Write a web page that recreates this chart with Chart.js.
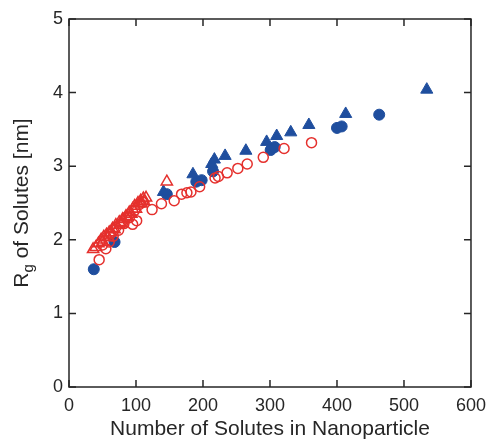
<!DOCTYPE html>
<html>
<head>
<meta charset="utf-8">
<script src="https://cdn.jsdelivr.net/npm/chart.js@4.4.1/dist/chart.umd.min.js"></script>
<style>
  html, body { margin: 0; padding: 0; background: #ffffff; }
  #wrap { width: 494px; height: 442px; }
</style>
</head>
<body>
<div id="wrap"><canvas id="c" width="494" height="442"></canvas></div>
<script>
// Radius of gyration of solutes vs. number of solutes in the nanoparticle
const blueCircleX = [37, 68, 146, 190, 198, 215, 301, 307, 400, 407, 463];
const blueCircleY = [1.60, 1.97, 2.62, 2.79, 2.81, 2.93, 3.22, 3.26, 3.52, 3.54, 3.70];

const blueTriX = [141, 185, 213, 217, 233, 264, 295, 310, 331, 358, 413, 534];
const blueTriY = [2.65, 2.89, 3.03, 3.09, 3.14, 3.21, 3.33, 3.41, 3.46, 3.56, 3.71, 4.04];

const redCircleX = [45, 50, 55, 60, 62, 66, 70, 74, 78, 82, 86, 90, 95, 98, 101, 105, 110, 124, 138, 157, 168, 176, 182, 195, 218, 223, 236, 252, 266, 290, 321, 362];
const redCircleY = [1.73, 1.93, 1.88, 1.97, 2.08, 2.05, 2.17, 2.13, 2.22, 2.22, 2.31, 2.30, 2.21, 2.40, 2.26, 2.48, 2.51, 2.41, 2.49, 2.53, 2.62, 2.64, 2.65, 2.72, 2.84, 2.86, 2.91, 2.97, 3.03, 3.12, 3.24, 3.32];

const redTriX = [36, 40, 44, 48, 50, 52, 56, 58, 60, 63, 65, 68, 70, 75, 78, 80, 85, 86, 90, 93, 95, 98, 100, 103, 107, 108, 111, 112, 115, 146];
const redTriY = [1.87, 1.90, 1.95, 2.00, 1.97, 2.04, 2.07, 2.03, 2.10, 2.10, 2.15, 2.14, 2.20, 2.24, 2.22, 2.28, 2.32, 2.30, 2.37, 2.35, 2.42, 2.46, 2.42, 2.50, 2.53, 2.49, 2.56, 2.52, 2.57, 2.79];

const xTicks = [0, 100, 200, 300, 400, 500, 600];
const yTicks = [0, 1, 2, 3, 4, 5];

const xTitle = 'Number of Solutes in Nanoparticle';
const yTitleMain = 'R';
const yTitleSub = 'g';
const yTitleRest = ' of Solutes [nm]';

const BLUE = '#1f4e9e';
const RED = '#e5302d';
const AXIS = '#262626';
const FONT = "'Liberation Sans', Arial, sans-serif";

function pts(xs, ys) { return xs.map((x, i) => ({ x: x, y: ys[i] })); }

// Frame box with inward ticks on all four sides, plus the y-axis title with subscript
const framePlugin = {
  id: 'frame',
  afterDraw(chart) {
    const ctx = chart.ctx;
    const a = chart.chartArea;
    const xs = chart.scales.x, ys = chart.scales.y;
    const tl = 7;
    ctx.save();
    ctx.strokeStyle = AXIS;
    ctx.lineWidth = 1.5;
    ctx.strokeRect(a.left, a.top, a.right - a.left, a.bottom - a.top);
    ctx.beginPath();
    xTicks.forEach(v => {
      const px = xs.getPixelForValue(v);
      ctx.moveTo(px, a.bottom); ctx.lineTo(px, a.bottom - tl);
      ctx.moveTo(px, a.top); ctx.lineTo(px, a.top + tl);
    });
    yTicks.forEach(v => {
      const py = ys.getPixelForValue(v);
      ctx.moveTo(a.left, py); ctx.lineTo(a.left + tl, py);
      ctx.moveTo(a.right, py); ctx.lineTo(a.right - tl, py);
    });
    ctx.stroke();

    // y-axis title: R with subscript g
    const cy = (a.top + a.bottom) / 2;
    ctx.translate(22, cy);
    ctx.rotate(-Math.PI / 2);
    ctx.fillStyle = AXIS;
    ctx.textBaseline = 'middle';
    ctx.textAlign = 'left';
    const big = '21px ' + FONT, small = '15px ' + FONT;
    ctx.font = big;
    const w1 = ctx.measureText(yTitleMain).width;
    const w3 = ctx.measureText(yTitleRest).width;
    ctx.font = small;
    const w2 = ctx.measureText(yTitleSub).width;
    let x0 = -(w1 + w2 + w3) / 2;
    ctx.font = big;
    ctx.fillText(yTitleMain, x0, 0);
    ctx.font = small;
    ctx.fillText(yTitleSub, x0 + w1, 7);
    ctx.font = big;
    ctx.fillText(yTitleRest, x0 + w1 + w2, 0);
    ctx.restore();
  }
};

new Chart(document.getElementById('c'), {
  type: 'scatter',
  data: {
    datasets: [
      { data: pts(redTriX, redTriY), pointStyle: 'triangle', pointRadius: 6.5,
        backgroundColor: 'rgba(255,255,255,0)', borderColor: RED, borderWidth: 1.5 },
      { data: pts(redCircleX, redCircleY), pointStyle: 'circle', pointRadius: 5,
        backgroundColor: 'rgba(255,255,255,0)', borderColor: RED, borderWidth: 1.5 },
      { data: pts(blueTriX, blueTriY), pointStyle: 'triangle', pointRadius: 7,
        backgroundColor: BLUE, borderColor: BLUE, borderWidth: 1 },
      { data: pts(blueCircleX, blueCircleY), pointStyle: 'circle', pointRadius: 5.5,
        backgroundColor: BLUE, borderColor: BLUE, borderWidth: 1 }
    ]
  },
  options: {
    responsive: false,
    animation: false,
    events: [],
    layout: { padding: { left: 0, right: 18, top: 19, bottom: 0 } },
    plugins: { legend: { display: false }, tooltip: { enabled: false } },
    scales: {
      x: {
        type: 'linear', min: 0, max: 600,
        grid: { display: false, drawTicks: false },
        border: { display: false },
        ticks: { stepSize: 100, color: AXIS, padding: 8, font: { size: 18, family: FONT } },
        title: { display: true, text: xTitle, color: AXIS, padding: 0,
                 font: { size: 21, family: FONT } },
        afterFit(s) { s.height = 55; }
      },
      y: {
        type: 'linear', min: 0, max: 5,
        grid: { display: false, drawTicks: false },
        border: { display: false },
        ticks: { stepSize: 1, color: AXIS, padding: 6, font: { size: 18, family: FONT } },
        afterFit(s) { s.width = 69; }
      }
    }
  },
  plugins: [framePlugin]
});
</script>
</body>
</html>
